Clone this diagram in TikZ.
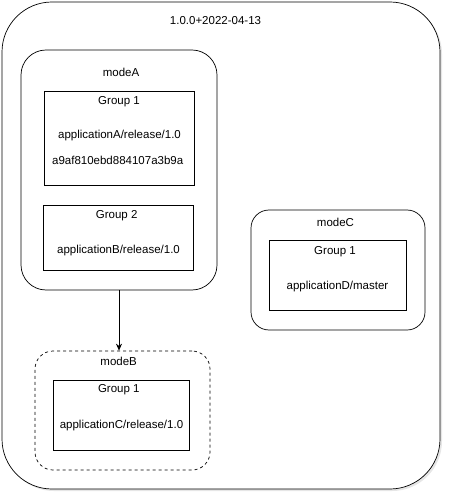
\documentclass[tikz,border=0pt]{standalone}
\usepackage{fontspec}
\setmainfont{Liberation Sans}
\usetikzlibrary{arrows.meta, positioning, calc, shadows}

\begin{document}
\begin{tikzpicture}[
  x=1pt, y=-1pt,
  container/.style={
    rectangle,
    draw,
    line width=0.7pt,
    rounded corners=18pt,
    fill=white
  },
  group/.style={
    rectangle,
    draw,
    line width=0.7pt,
    fill=white
  },
  note/.style={
    align=center,
    inner sep=0pt
  },
  every node/.style={font=\fontsize{11.5}{14}\selectfont},
  arrow/.style={-{Stealth[length=7pt, width=6pt]}, line width=0.7pt}
]

\useasboundingbox (0,0) rectangle (452,502);

% ============================================================
% Outer release container
% ============================================================

\node[container, rounded corners=50pt, minimum width=438pt, minimum height=487pt,
      drop shadow={opacity=0.2, shadow xshift=2pt, shadow yshift=-2pt}] (outer) at (221,245.5) {};
\node[note] (title) at (215.5,21) {1.0.0+2022-04-13};

% ============================================================
% modeA
% ============================================================

\node[container, rounded corners=25pt, minimum width=196pt, minimum height=240pt] (modeA) at (119,170) {};
\node[note] (modeAlabel) at (121,72) {modeA};

\node[group, minimum width=150pt, minimum height=94pt] (groupA1) at (119,138) {};
\node[note] (groupA1title) at (119,102) {Group 1};
\node[note] (appA) at (119.5,136) {applicationA/release/1.0};
\node[note] (hashA) at (117.7,160) {a9af810ebd884107a3b9a};

\node[group, minimum width=150pt, minimum height=65pt] (groupA2) at (118,237.5) {};
\node[note] (groupA2title) at (116.7,216) {Group 2};
\node[note] (appB) at (118.5,251) {applicationB/release/1.0};

% ============================================================
% modeC
% ============================================================

\node[container, minimum width=174pt, minimum height=120pt] (modeC) at (338,270) {};
\node[note] (modeClabel) at (335.5,222) {modeC};

\node[group, minimum width=137pt, minimum height=70pt] (groupC1) at (337.5,275) {};
\node[note] (groupC1title) at (335,252) {Group 1};
\node[note] (appD) at (337.5,287) {applicationD/master};

% ============================================================
% modeB
% ============================================================

\node[container, dashed, minimum width=175pt, minimum height=119pt] (modeB) at (122.5,410.5) {};
\node[note] (modeBlabel) at (118.7,361) {modeB};

\node[group, minimum width=136pt, minimum height=70pt] (groupB1) at (121,415) {};
\node[note] (groupB1title) at (118.8,390) {Group 1};
\node[note] (appC) at (121.5,426) {applicationC/release/1.0};

% ============================================================
% Arrow from modeA to modeB
% ============================================================

\draw[arrow] (modeA.south) -- (modeA.south |- modeB.north);

\end{tikzpicture}
\end{document}
